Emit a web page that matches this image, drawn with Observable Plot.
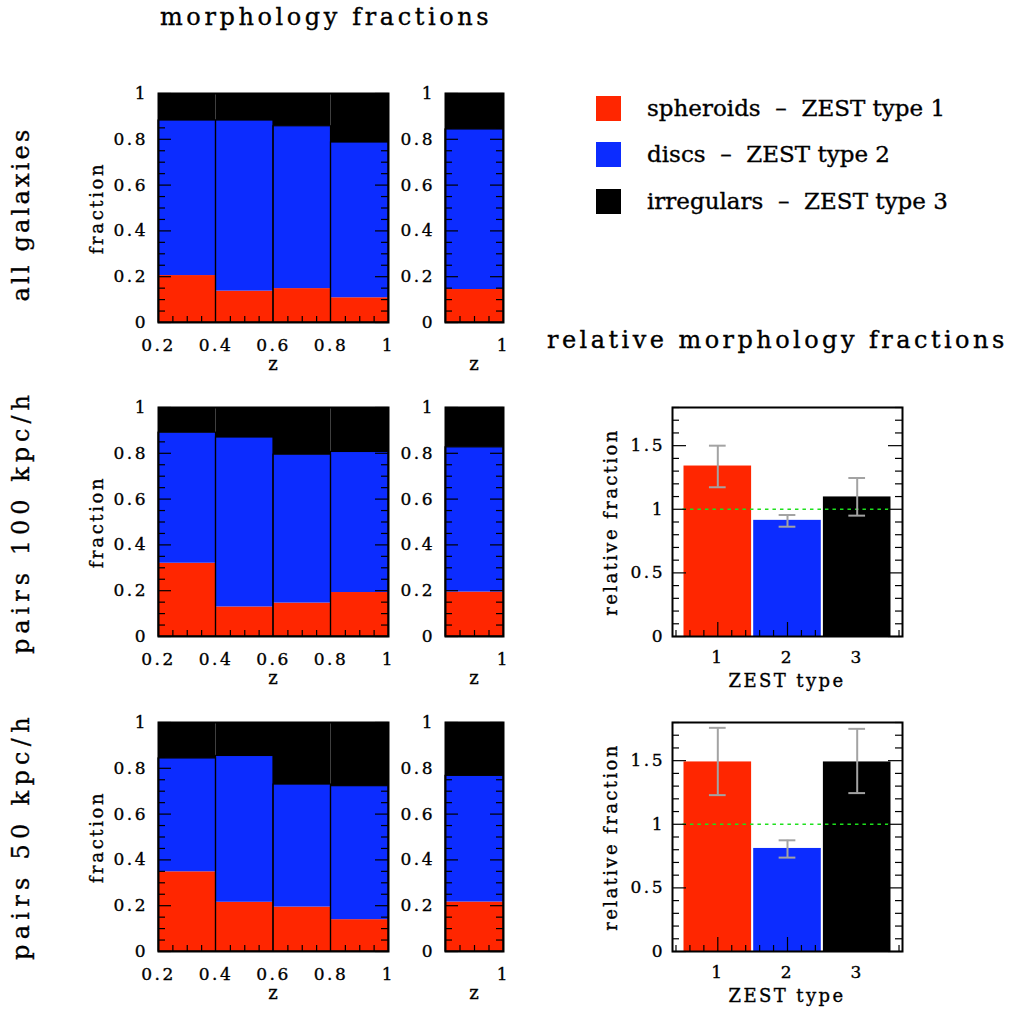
<!DOCTYPE html>
<html><head><meta charset="utf-8">
<script src="https://cdn.jsdelivr.net/npm/d3@7"></script>
<script src="https://cdn.jsdelivr.net/npm/@observablehq/plot@0.6"></script>
<style>
html,body{margin:0;padding:0;background:#fff;}
#root{position:relative;width:1011px;height:1013px;overflow:hidden;font-family:"DejaVu Serif",serif;color:#000;background:#fff;}
#root svg{position:absolute;overflow:visible;max-width:none;}
.t{position:absolute;white-space:nowrap;font-family:"DejaVu Serif",serif;line-height:1;color:#000;-webkit-text-stroke:0.35px #000;}
.sw{position:absolute;width:25px;height:25px;}
</style></head><body><div id="root"></div>
<script>
// ---------- data ----------
const types = ["spheroids", "discs", "irregulars"];
const typeColors = ["#ff2600", "#0c2cff", "#000000"];
const legendLabels = ["spheroids\u00a0 \u2013\u00a0 ZEST type 1", "discs\u00a0 \u2013\u00a0 ZEST type 2", "irregulars\u00a0 \u2013\u00a0 ZEST type 3"];
const rowLabels = ["all galaxies", "pairs 100 kpc/h", "pairs 50 kpc/h"];

const zLo = [0.2, 0.4, 0.6, 0.8];
const zHi = [0.4, 0.6, 0.8, 1.0];

// all galaxies
const allSph  = [0.205, 0.137, 0.148, 0.108];
const allDisc = [0.677, 0.745, 0.709, 0.678];
const allIrr  = [0.118, 0.118, 0.143, 0.214];
// pairs 100 kpc/h
const p100Sph  = [0.320, 0.129, 0.146, 0.192];
const p100Disc = [0.570, 0.740, 0.648, 0.614];
const p100Irr  = [0.110, 0.131, 0.206, 0.194];
// pairs 50 kpc/h
const p50Sph  = [0.348, 0.215, 0.194, 0.139];
const p50Disc = [0.495, 0.639, 0.535, 0.583];
const p50Irr  = [0.157, 0.146, 0.271, 0.278];

// whole range 0.2 < z < 1 (narrow panels)
const totLo = [0.2];
const totHi = [1.0];
const allTotSph = [0.144],  allTotDisc = [0.699],  allTotIrr = [0.157];
const p100TotSph = [0.194], p100TotDisc = [0.632], p100TotIrr = [0.174];
const p50TotSph = [0.216],  p50TotDisc = [0.551],  p50TotIrr = [0.233];

// relative morphology fractions
const zestTypes = [1, 2, 3];
const rel100   = [1.340, 0.913, 1.097];
const rel100Lo = [1.173, 0.863, 0.950];
const rel100Hi = [1.500, 0.955, 1.246];
const rel50    = [1.490, 0.810, 1.490];
const rel50Lo  = [1.229, 0.738, 1.245];
const rel50Hi  = [1.758, 0.874, 1.750];

// tick labels
const fracTicks = [0, 0.2, 0.4, 0.6, 0.8, 1];
const zTicks = [0.2, 0.4, 0.6, 0.8, 1];
const zTotTicks = [1];
const relYTicks = [0, 0.5, 1, 1.5];
const relXTicks = [1, 2, 3];

// ---------- helpers ----------
const root = document.getElementById("root");
const FONT = "DejaVu Serif";
const near = (a, b) => Math.abs(a - b) < 1e-9;
const minorOf = (start, stop, step, majors) =>
  d3.range(start, stop + step / 2, step).map(v => +v.toFixed(4)).filter(v => !majors.some(m => near(m, v)));

function place(svg, left, top) {
  svg.style.position = "absolute";
  svg.style.left = left + "px";
  svg.style.top = top + "px";
  d3.select(svg).selectAll("text")
    .style("font-family", '"DejaVu Serif", serif')
    .style("font-size", "17px")
    .style("letter-spacing", "2.5px")
    .style("stroke", "#000")
    .style("stroke-width", "0.35px");
  root.appendChild(svg);
}

function text(str, {x, y, size, ls = 0, anchor = "start"}) {
  const d = document.createElement("div");
  d.className = "t";
  d.textContent = str;
  d.style.fontSize = size + "px";
  d.style.letterSpacing = ls + "px";
  d.style.left = x + "px";
  d.style.top = (y - 0.846 * size) + "px";
  if (anchor === "middle") d.style.transform = "translateX(-50%)";
  if (anchor === "end") d.style.transform = "translateX(-100%)";
  root.appendChild(d);
}
function vtext(str, {x, y, size, ls = 0}) {
  const d = document.createElement("div");
  d.className = "t";
  d.textContent = str;
  d.style.fontSize = size + "px";
  d.style.letterSpacing = ls + "px";
  d.style.left = x + "px";
  d.style.top = y + "px";
  d.style.transformOrigin = "0 0";
  d.style.transform = "rotate(-90deg) translate(-50%, -0.846em)";
  root.appendChild(d);
}

const colorScale = {domain: types, range: typeColors};
const plotStyle = {fontFamily: FONT, fontSize: "17px", background: "transparent", overflow: "visible"};

function fracPanel({lo, hi, sph, disc, irr, fx, fy, W, H, xTicks, xMinor}) {
  const rows = [];
  const bins = [];
  lo.forEach((l, i) => {
    rows.push({x1: l, x2: hi[i], y1: 0, y2: sph[i], type: types[0]});
    rows.push({x1: l, x2: hi[i], y1: sph[i], y2: sph[i] + disc[i], type: types[1]});
    rows.push({x1: l, x2: hi[i], y1: sph[i] + disc[i], y2: sph[i] + disc[i] + irr[i], type: types[2]});
    bins.push({x1: l, x2: hi[i], top: sph[i] + disc[i]});
  });
  const mL = 60, mR = 10, mT = 10, mB = 40;
  const yMinor = minorOf(0, 1, 0.05, fracTicks);
  const svg = Plot.plot({
    width: mL + W + mR, height: mT + H + mB,
    marginLeft: mL, marginRight: mR, marginTop: mT, marginBottom: mB,
    style: plotStyle,
    x: {domain: [0.2, 1]},
    y: {domain: [0, 1]},
    color: colorScale,
    marks: [
      Plot.rect(rows, {x1: "x1", x2: "x2", y1: "y1", y2: "y2", fill: "type"}),
      Plot.rect(bins, {x1: "x1", x2: "x2", y1: 0, y2: "top", fill: "none", stroke: "black", strokeWidth: 1.2}),
      Plot.ruleY(fracTicks, {insetRight: W - 13, stroke: "black", strokeWidth: 1.2}),
      Plot.ruleY(fracTicks, {insetLeft: W - 13, stroke: "black", strokeWidth: 1.2}),
      Plot.ruleY(yMinor, {insetRight: W - 7, stroke: "black", strokeWidth: 1.2}),
      Plot.ruleY(yMinor, {insetLeft: W - 7, stroke: "black", strokeWidth: 1.2}),
      Plot.ruleX(xMinor, {insetTop: H - 6, stroke: "black", strokeWidth: 1.2}),
      Plot.axisY({ticks: fracTicks, tickSize: 0, tickPadding: 10.5, fontSize: 17, tickFormat: d => String(d), label: null}),
      Plot.axisX({ticks: xTicks, tickSize: 0, tickPadding: 16, fontSize: 17, tickFormat: d => String(d), label: null}),
      Plot.frame({stroke: "black", strokeWidth: 2})
    ]
  });
  place(svg, fx - mL, fy - mT);
}

function relPanel({vals, los, his, fx, fy, W, H}) {
  const data = zestTypes.map((t, i) => ({t, v: vals[i], lo: los[i], hi: his[i], type: types[i]}));
  const mL = 60, mR = 10, mT = 10, mB = 40;
  const yMaj = relYTicks;
  const yMinor = minorOf(0, 1.8, 0.1, yMaj);
  const xMinor = minorOf(0.4, 3.6, 0.2, relXTicks);
  const svg = Plot.plot({
    width: mL + W + mR, height: mT + H + mB,
    marginLeft: mL, marginRight: mR, marginTop: mT, marginBottom: mB,
    style: plotStyle,
    x: {domain: [0.35, 3.65]},
    y: {domain: [0, 1.8]},
    color: colorScale,
    marks: [
      Plot.rect(data, {x1: d => d.t - 0.485, x2: d => d.t + 0.485, y1: 0, y2: "v", fill: "type"}),
      Plot.ruleY([1], {x1: 0.5, x2: 3.5, stroke: "#1ee01e", strokeWidth: 1.6, strokeDasharray: "3.5,4"}),
      Plot.ruleX(data, {x: "t", y1: "lo", y2: "hi", stroke: "#a3a3a3", strokeWidth: 2}),
      Plot.ruleY(data, {y: "lo", x1: d => d.t - 0.12, x2: d => d.t + 0.12, stroke: "#a3a3a3", strokeWidth: 2}),
      Plot.ruleY(data, {y: "hi", x1: d => d.t - 0.12, x2: d => d.t + 0.12, stroke: "#a3a3a3", strokeWidth: 2}),
      Plot.ruleY(yMaj, {insetRight: W - 14, stroke: "black", strokeWidth: 1.2}),
      Plot.ruleY(yMaj, {insetLeft: W - 14, stroke: "black", strokeWidth: 1.2}),
      Plot.ruleY(yMinor, {insetRight: W - 7, stroke: "black", strokeWidth: 1.2}),
      Plot.ruleY(yMinor, {insetLeft: W - 7, stroke: "black", strokeWidth: 1.2}),
      Plot.ruleX(relXTicks, {insetTop: H - 14, stroke: "black", strokeWidth: 1.2}),
      Plot.ruleX(xMinor, {insetTop: H - 6, stroke: "black", strokeWidth: 1.2}),
      Plot.axisY({ticks: relYTicks, tickSize: 0, tickPadding: 7.5, fontSize: 17, tickFormat: d => String(d), label: null}),
      Plot.axisX({ticks: relXTicks, tickSize: 0, tickPadding: 14, fontSize: 17, tickFormat: d => String(d), label: null}),
      Plot.frame({stroke: "black", strokeWidth: 2})
    ]
  });
  place(svg, fx - mL, fy - mT);
}

// ---------- layout ----------
const rowTop = [93, 407, 722];
const PH = 229;
const mainX = 158, mainW = 230;
const totX = 445, totW = 58;
const relX = 672, relW = 230;

const fracSets = [
  [allSph, allDisc, allIrr, allTotSph, allTotDisc, allTotIrr],
  [p100Sph, p100Disc, p100Irr, p100TotSph, p100TotDisc, p100TotIrr],
  [p50Sph, p50Disc, p50Irr, p50TotSph, p50TotDisc, p50TotIrr]
];
const zMinorMain = minorOf(0.2, 1, 0.05, zTicks);
const zMinorTot = [0.4, 0.6, 0.8];

fracSets.forEach(([s, d, ir, ts, td, ti], r) => {
  const fy = rowTop[r];
  fracPanel({lo: zLo, hi: zHi, sph: s, disc: d, irr: ir, fx: mainX, fy, W: mainW, H: PH, xTicks: zTicks, xMinor: zMinorMain});
  fracPanel({lo: totLo, hi: totHi, sph: ts, disc: td, irr: ti, fx: totX, fy, W: totW, H: PH, xTicks: zTotTicks, xMinor: zMinorTot});
  vtext("fraction", {x: 103, y: fy + PH / 2, size: 18, ls: 2.6});
  text("z", {x: mainX + mainW / 2, y: fy + PH + 48, size: 18, anchor: "middle"});
  text("z", {x: totX + totW / 2, y: fy + PH + 48, size: 18, anchor: "middle"});
});

relPanel({vals: rel100, los: rel100Lo, his: rel100Hi, fx: relX, fy: rowTop[1], W: relW, H: PH});
relPanel({vals: rel50, los: rel50Lo, his: rel50Hi, fx: relX, fy: rowTop[2], W: relW, H: PH});
[1, 2].forEach(r => {
  vtext("relative fraction", {x: 617, y: rowTop[r] + PH / 2, size: 18, ls: 2.4});
  text("ZEST type", {x: relX + relW / 2, y: rowTop[r] + PH + 51, size: 18, ls: 2.4, anchor: "middle"});
});

// titles
text("morphology fractions", {x: 160, y: 25, size: 24, ls: 3.6});
text("relative morphology fractions", {x: 547, y: 348, size: 24, ls: 3.45});
// row labels
const rowCenters = [214, 522, 836];
const rowLs = [3.2, 5.0, 5.3];
rowLabels.forEach((s, i) => vtext(s, {x: 28.5, y: rowCenters[i], size: 24, ls: rowLs[i]}));

// legend
const legY = [108, 154, 201];
const legBase = [116.7, 162.3, 209];
legendLabels.forEach((s, i) => {
  const sw = document.createElement("div");
  sw.className = "sw";
  sw.style.left = "596px";
  sw.style.top = (legY[i] - 12.5) + "px";
  sw.style.background = typeColors[i];
  root.appendChild(sw);
  text(s, {x: 647, y: legBase[i], size: 23, ls: 0});
});
</script></body></html>
